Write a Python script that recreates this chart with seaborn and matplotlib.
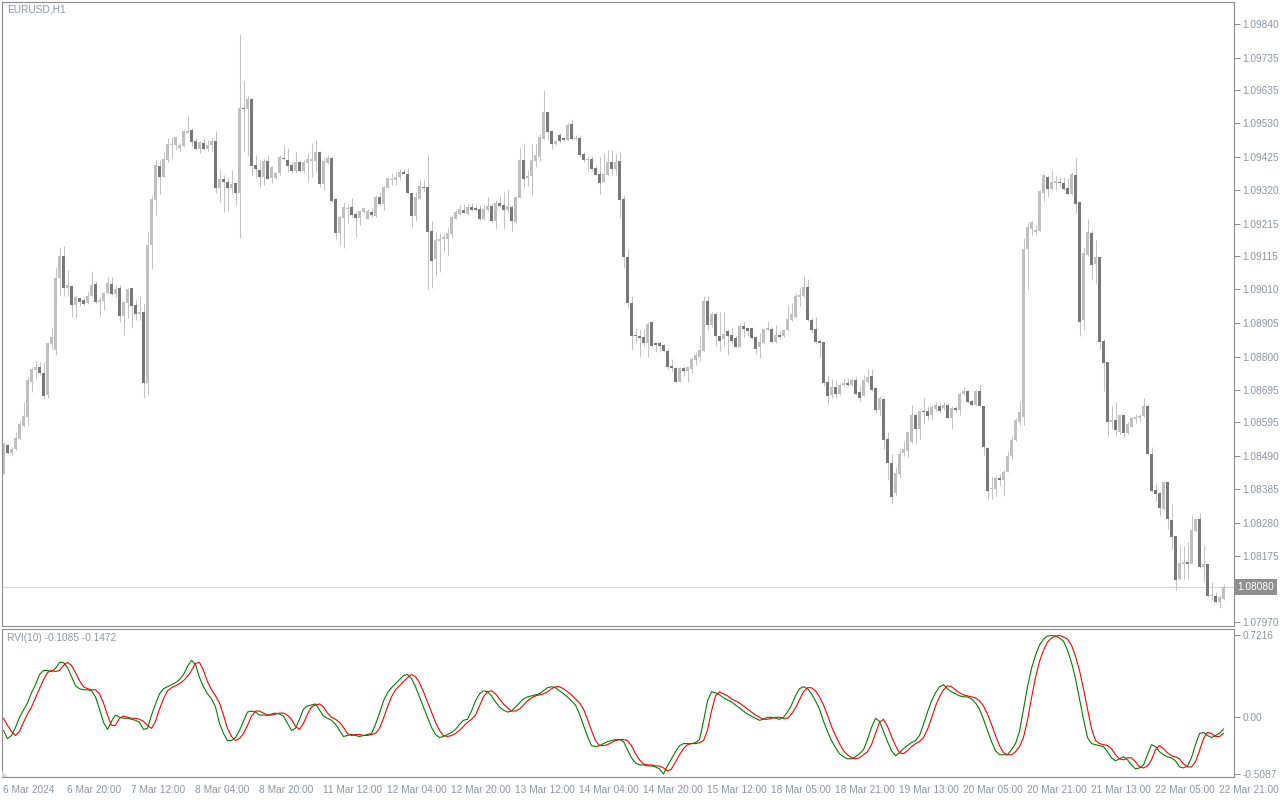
import numpy as np
import pandas as pd
import matplotlib
matplotlib.use("Agg")
import matplotlib.pyplot as plt
import matplotlib.transforms as mtransforms
from matplotlib.patches import Polygon
import seaborn as sns

# ---------------- data ----------------
symbol_label = "EURUSD,H1"
rvi_label = "RVI(10) -0.1085 -0.1472"

# prices in points (1 point = 0.00001)
open_pts = [108432,108523,108498,108510,108541,108582,108610,108722,108757,108766,
108750,108679,108838,108822,109047,109116,109016,109022,108960,108982,
108978,108969,108988,109028,108972,108975,109000,109028,108997,109013,
108928,108969,109013,108960,108932,108941,108716,109150,109291,109397,
109362,109415,109462,109462,109453,109459,109500,109509,109475,109450,
109469,109450,109462,109475,109328,109356,109347,109328,109344,109312,
109578,109575,109606,109400,109384,109362,109412,109359,109359,109375,
109422,109415,109400,109381,109409,109381,109406,109412,109412,109440,
109341,109406,109422,109294,109188,109234,109262,109269,109247,109234,
109253,109231,109253,109241,109300,109278,109328,109353,109353,109362,
109378,109372,109312,109241,109294,109331,109331,109194,109106,109163,
109169,109169,109184,109231,109247,109259,109247,109269,109266,109262,
109231,109259,109272,109225,109281,109275,109259,109269,109222,109297,
109415,109359,109366,109412,109425,109481,109565,109506,109465,109494,
109484,109478,109528,109481,109484,109434,109415,109419,109391,109372,
109347,109369,109409,109387,109412,109294,109113,108969,108866,108863,
108860,108844,108907,108844,108844,108835,108819,108772,108763,108722,
108763,108754,108760,108788,108800,108819,108975,108900,108932,108866,
108854,108879,108869,108857,108829,108897,108888,108891,108860,108829,
108841,108882,108885,108847,108869,108863,108882,108913,108925,108985,
108988,109019,108916,108885,108850,108847,108722,108679,108704,108682,
108710,108716,108710,108726,108688,108676,108722,108738,108701,108632,
108666,108541,108466,108373,108432,108498,108504,108532,108616,108573,
108629,108629,108616,108635,108644,108638,108648,108607,108638,108632,
108682,108691,108660,108648,108694,108644,108513,108385,108385,108420,
108413,108438,108488,108538,108594,108610,109138,109200,109191,109194,
109312,109362,109325,109344,109347,109344,109328,109309,109369,109284,
108916,109119,109188,109091,109110,108850,108782,108594,108601,108563,
108616,108560,108579,108604,108607,108613,108644,108495,108382,108373,
108323,108407,108289,108238,108104,108151,108157,108151,108254,108292,
108142,108151,108051,108051,108033,108042]

high_pts = [108532,108526,108516,108563,108598,108657,108735,108769,108785,108782,
108782,108847,108888,109081,109144,109147,109072,109025,108994,108982,
108982,109006,109069,109035,108985,109003,109050,109050,109025,109025,
108972,109016,109016,108978,108994,108963,109191,109303,109415,109415,
109440,109484,109487,109487,109469,109509,109553,109515,109484,109475,
109484,109478,109487,109506,109384,109369,109362,109384,109344,109809,
109662,109615,109609,109431,109415,109419,109431,109397,109378,109431,
109462,109453,109409,109440,109415,109415,109437,109469,109478,109444,
109425,109431,109428,109297,109244,109284,109275,109297,109253,109259,
109269,109262,109266,109306,109316,109334,109359,109375,109378,109387,
109387,109390,109312,109316,109353,109353,109431,109225,109191,109188,
109188,109203,109244,109259,109275,109278,109278,109281,109275,109275,
109275,109300,109281,109291,109303,109316,109322,109275,109303,109453,
109469,109384,109465,109465,109497,109634,109565,109509,109478,109500,
109487,109534,109543,109494,109494,109440,109425,109428,109400,109425,
109437,109447,109447,109434,109444,109306,109138,108991,108891,108885,
108885,108907,108910,108847,108850,108838,108822,108791,108766,108766,
108772,108766,108797,108813,108863,108991,108991,108938,108941,108938,
108938,108885,108894,108863,108903,108907,108891,108894,108863,108875,
108891,108910,108894,108900,108879,108885,108960,108969,109000,109016,
109053,109044,108922,108925,108854,108847,108744,108729,108726,108719,
108729,108732,108732,108738,108707,108741,108760,108760,108704,108676,
108672,108563,108495,108454,108510,108535,108563,108648,108622,108632,
108672,108644,108648,108657,108654,108657,108654,108644,108644,108688,
108704,108697,108666,108697,108713,108644,108516,108423,108426,108432,
108445,108504,108554,108607,108660,109172,109222,109225,109213,109322,
109372,109366,109384,109369,109362,109362,109359,109378,109422,109284,
109144,109231,109197,109166,109113,108854,108782,108644,108657,108619,
108616,108594,108610,108619,108622,108672,108651,108516,108404,108376,
108410,108407,108338,108238,108207,108207,108220,108304,108295,108310,
108207,108151,108095,108064,108054,108089]

low_pts = [108432,108495,108488,108507,108538,108579,108582,108688,108729,108744,
108669,108672,108825,108804,108988,108988,108988,108925,108922,108957,
108957,108966,108988,108969,108928,108947,108997,108994,108985,108907,
108869,108922,108891,108916,108916,108672,108682,109075,109244,109309,
109362,109409,109422,109447,109444,109456,109500,109456,109447,109437,
109447,109444,109440,109312,109284,109253,109256,109312,109275,109172,
109440,109428,109369,109362,109331,109337,109356,109344,109356,109369,
109419,109378,109375,109375,109378,109375,109347,109362,109378,109331,
109322,109403,109284,109169,109150,109141,109219,109238,109175,109213,
109250,109231,109238,109238,109275,109259,109328,109337,109337,109353,
109372,109309,109206,109225,109294,109316,109010,109016,109053,109066,
109128,109119,109175,109231,109244,109250,109244,109256,109256,109228,
109228,109256,109219,109200,109269,109200,109253,109194,109219,109297,
109328,109334,109306,109394,109412,109481,109478,109450,109462,109469,
109475,109478,109478,109478,109425,109409,109381,109381,109369,109309,
109347,109366,109369,109369,109234,109078,108953,108822,108841,108800,
108832,108800,108829,108813,108819,108813,108760,108754,108719,108722,
108738,108722,108750,108775,108785,108816,108882,108894,108832,108819,
108832,108804,108838,108829,108829,108860,108863,108854,108807,108797,
108838,108879,108844,108844,108854,108860,108879,108910,108922,108957,
108985,108910,108875,108838,108800,108707,108651,108669,108669,108679,
108707,108707,108707,108679,108660,108676,108719,108694,108619,108613,
108510,108413,108338,108366,108423,108488,108485,108529,108526,108541,
108588,108601,108601,108629,108626,108632,108607,108573,108626,108616,
108679,108654,108644,108644,108644,108491,108354,108354,108363,108395,
108363,108438,108476,108535,108585,108585,109010,109181,109181,109194,
109287,109300,109322,109322,109331,109322,109306,109306,109250,108863,
108882,109116,109041,109031,108825,108694,108551,108573,108551,108557,
108548,108557,108579,108591,108598,108610,108491,108376,108348,108301,
108320,108260,108198,108070,108101,108104,108104,108151,108251,108139,
108095,108048,108039,108029,108014,108039]

close_pts = [108526,108498,108510,108545,108588,108613,108726,108760,108766,108750,
108676,108841,108860,109047,109116,109016,109025,108960,108985,108972,
108963,108991,109025,108972,108978,109000,109031,108997,109010,108928,
108972,109010,108957,108932,108938,108716,109150,109294,109400,109362,
109419,109465,109465,109487,109462,109506,109506,109472,109450,109472,
109450,109462,109475,109328,109356,109347,109328,109341,109312,109578,
109575,109606,109397,109387,109362,109412,109356,109394,109375,109425,
109419,109397,109381,109409,109381,109409,109419,109419,109440,109341,
109412,109422,109287,109188,109238,109269,109266,109244,109234,109256,
109266,109256,109244,109300,109278,109331,109359,109356,109362,109378,
109372,109312,109241,109300,109334,109328,109191,109100,109166,109169,
109172,109188,109238,109253,109262,109250,109269,109259,109259,109231,
109262,109272,109225,109281,109272,109259,109272,109225,109300,109415,
109356,109366,109415,109431,109487,109565,109503,109465,109475,109475,
109478,109525,109481,109484,109431,109415,109419,109387,109369,109344,
109372,109409,109387,109409,109291,109113,108969,108866,108863,108857,
108844,108903,108832,108835,108832,108819,108769,108763,108722,108763,
108754,108766,108791,108804,108822,108975,108900,108932,108863,108850,
108872,108866,108850,108829,108897,108885,108879,108857,108825,108847,
108885,108888,108847,108869,108860,108882,108919,108932,108988,108994,
109019,108913,108882,108847,108844,108716,108676,108704,108682,108710,
108716,108710,108726,108682,108672,108726,108735,108697,108632,108669,
108538,108466,108360,108435,108495,108510,108563,108616,108573,108629,
108626,108613,108641,108648,108629,108648,108607,108638,108632,108682,
108691,108657,108648,108694,108644,108516,108379,108388,108420,108413,
108438,108488,108538,108601,108626,109138,109206,109222,109197,109319,
109369,109325,109347,109350,109344,109325,109309,109372,109278,108907,
109125,109191,109088,109110,108847,108779,108594,108601,108569,108616,
108560,108588,108607,108610,108613,108644,108495,108379,108370,108326,
108407,108292,108235,108101,108154,108157,108151,108257,108292,108142,
108151,108051,108051,108033,108048,108080]

rvi_main = [-0.122,-0.194,-0.167,-0.095,-0.005,0.059,0.122,0.212,0.284,0.374,
0.410,0.410,0.401,0.428,0.482,0.482,0.437,0.356,0.275,0.248,
0.239,0.239,0.230,0.176,0.068,-0.050,-0.113,-0.041,0.014,-0.005,
-0.014,-0.014,-0.023,-0.032,-0.050,-0.113,-0.104,0.014,0.113,0.203,
0.248,0.266,0.284,0.302,0.329,0.374,0.446,0.500,0.464,0.347,
0.266,0.203,0.158,0.086,-0.059,-0.149,-0.212,-0.212,-0.185,-0.122,
-0.041,0.041,0.050,0.041,0.014,0.014,0.014,0.023,0.032,0.023,
0.005,-0.059,-0.122,-0.104,-0.023,0.068,0.095,0.104,0.113,0.059,
0.005,-0.014,-0.032,-0.068,-0.122,-0.176,-0.167,-0.158,-0.167,-0.176,
-0.167,-0.158,-0.149,-0.068,0.032,0.140,0.212,0.257,0.293,0.329,
0.365,0.374,0.338,0.266,0.176,0.086,-0.005,-0.095,-0.158,-0.185,
-0.176,-0.158,-0.140,-0.113,-0.068,-0.032,-0.023,0.050,0.140,0.203,
0.230,0.221,0.185,0.131,0.086,0.059,0.041,0.050,0.086,0.122,
0.158,0.176,0.185,0.194,0.203,0.230,0.257,0.266,0.257,0.230,
0.203,0.176,0.140,0.104,0.023,-0.077,-0.176,-0.257,-0.266,-0.257,
-0.239,-0.221,-0.212,-0.203,-0.203,-0.221,-0.293,-0.365,-0.410,-0.428,
-0.428,-0.437,-0.437,-0.446,-0.464,-0.5087,-0.437,-0.374,-0.311,-0.257,
-0.239,-0.239,-0.239,-0.230,-0.203,-0.041,0.140,0.221,0.212,0.194,
0.167,0.149,0.131,0.104,0.077,0.050,0.023,0.005,-0.014,-0.032,
-0.023,-0.005,-0.005,-0.014,-0.023,-0.005,0.041,0.104,0.185,0.248,
0.266,0.248,0.203,0.140,0.068,-0.041,-0.131,-0.212,-0.275,-0.329,
-0.356,-0.374,-0.374,-0.356,-0.329,-0.293,-0.203,-0.095,-0.014,-0.041,
-0.131,-0.221,-0.302,-0.347,-0.320,-0.284,-0.257,-0.230,-0.212,-0.167,
-0.068,0.041,0.140,0.212,0.266,0.284,0.248,0.221,0.203,0.185,
0.176,0.176,0.158,0.122,0.068,-0.023,-0.122,-0.221,-0.302,-0.338,
-0.338,-0.338,-0.293,-0.239,-0.131,0.068,0.266,0.428,0.545,0.635,
0.689,0.716,0.720,0.716,0.698,0.671,0.590,0.482,0.338,0.158,
-0.023,-0.185,-0.239,-0.248,-0.257,-0.266,-0.311,-0.365,-0.392,-0.374,
-0.356,-0.383,-0.428,-0.464,-0.455,-0.428,-0.338,-0.248,-0.266,-0.311,
-0.338,-0.356,-0.365,-0.392,-0.446,-0.455,-0.437,-0.365,-0.248,-0.149,
-0.140,-0.167,-0.185,-0.167,-0.149,-0.1085]

rvi_signal = [-0.014,-0.077,-0.131,-0.167,-0.131,-0.050,0.023,0.086,0.167,0.248,
0.329,0.392,0.410,0.401,0.410,0.455,0.482,0.455,0.392,0.320,
0.266,0.248,0.239,0.239,0.203,0.122,0.014,-0.077,-0.077,-0.014,
0.005,-0.005,-0.014,-0.014,-0.023,-0.041,-0.077,-0.104,-0.041,0.068,
0.158,0.230,0.257,0.275,0.293,0.320,0.356,0.410,0.473,0.482,
0.410,0.311,0.239,0.185,0.122,0.014,-0.104,-0.176,-0.212,-0.194,
-0.149,-0.077,0.005,0.050,0.050,0.032,0.014,0.014,0.023,0.032,
0.032,0.014,-0.023,-0.086,-0.113,-0.059,0.023,0.086,0.104,0.113,
0.086,0.032,-0.005,-0.023,-0.050,-0.095,-0.149,-0.167,-0.158,-0.158,
-0.167,-0.167,-0.158,-0.149,-0.104,-0.014,0.086,0.176,0.239,0.275,
0.311,0.347,0.374,0.356,0.302,0.221,0.131,0.041,-0.050,-0.122,
-0.167,-0.176,-0.167,-0.149,-0.122,-0.086,-0.050,-0.023,0.014,0.095,
0.176,0.221,0.230,0.203,0.158,0.113,0.077,0.050,0.050,0.068,
0.104,0.140,0.167,0.185,0.194,0.203,0.221,0.248,0.266,0.266,
0.248,0.221,0.194,0.158,0.122,0.068,-0.023,-0.122,-0.212,-0.257,
-0.257,-0.248,-0.230,-0.212,-0.203,-0.203,-0.212,-0.257,-0.329,-0.383,
-0.419,-0.428,-0.428,-0.437,-0.437,-0.455,-0.482,-0.464,-0.401,-0.338,
-0.284,-0.248,-0.239,-0.239,-0.230,-0.212,-0.122,0.050,0.185,0.221,
0.203,0.185,0.158,0.140,0.122,0.095,0.068,0.041,0.014,-0.005,
-0.023,-0.023,-0.014,-0.005,-0.005,-0.014,-0.014,0.023,0.077,0.149,
0.221,0.257,0.257,0.230,0.176,0.104,0.014,-0.086,-0.167,-0.239,
-0.302,-0.338,-0.365,-0.374,-0.365,-0.338,-0.311,-0.248,-0.149,-0.050,
-0.023,-0.086,-0.176,-0.257,-0.320,-0.329,-0.302,-0.266,-0.239,-0.221,
-0.185,-0.113,-0.014,0.095,0.176,0.239,0.275,0.266,0.239,0.212,
0.194,0.185,0.176,0.167,0.140,0.095,0.023,-0.068,-0.167,-0.257,
-0.320,-0.338,-0.338,-0.311,-0.266,-0.185,-0.032,0.167,0.347,0.491,
0.590,0.662,0.698,0.716,0.7216,0.707,0.689,0.635,0.536,0.410,
0.248,0.068,-0.104,-0.212,-0.239,-0.248,-0.257,-0.284,-0.338,-0.374,
-0.383,-0.365,-0.365,-0.401,-0.446,-0.455,-0.437,-0.383,-0.293,-0.257,
-0.284,-0.320,-0.347,-0.356,-0.374,-0.419,-0.446,-0.446,-0.401,-0.302,
-0.194,-0.140,-0.149,-0.176,-0.176,-0.1472]

time_labels = ["6 Mar 2024", "6 Mar 20:00", "7 Mar 12:00", "8 Mar 04:00", "8 Mar 20:00",
               "11 Mar 12:00", "12 Mar 04:00", "12 Mar 20:00", "13 Mar 12:00", "14 Mar 04:00",
               "14 Mar 20:00", "15 Mar 12:00", "18 Mar 05:00", "18 Mar 21:00", "19 Mar 13:00",
               "20 Mar 05:00", "20 Mar 21:00", "21 Mar 13:00", "22 Mar 05:00", "22 Mar 21:00"]
bars_per_label = 16

price_ticks = [1.09840, 1.09735, 1.09635, 1.09530, 1.09425, 1.09320, 1.09215, 1.09115,
               1.09010, 1.08905, 1.08800, 1.08695, 1.08595, 1.08490, 1.08385, 1.08280,
               1.08175, 1.07970]
price_range = (1.079575, 1.09909)
last_price = 1.08080

rvi_ticks = [0.7216, 0.0, -0.5087]
rvi_tick_labels = ["0.7216", "0.00", "-0.5087"]
rvi_range = (-0.5355, 0.7785)

# ---------------- style ----------------
sns.set_style("white")
plt.rcParams['font.family'] = ['Liberation Sans', 'DejaVu Sans']

BULL = "#c0c0c0"
BEAR = "#787878"
WICK = "#c4c4c4"
FRAME = "#8c8c8c"
TEXT = "#8e96a4"
FS = 7.3

df = pd.DataFrame({
    "open": np.array(open_pts) / 1e5,
    "high": np.array(high_pts) / 1e5,
    "low": np.array(low_pts) / 1e5,
    "close": np.array(close_pts) / 1e5,
})
df["high"] = df[["high", "open", "close"]].max(axis=1)
df["low"] = df[["low", "open", "close"]].min(axis=1)
n = len(df)
idx = np.arange(n)

W, H = 1280, 800
fig = plt.figure(figsize=(W / 100, H / 100), dpi=100)
fig.patch.set_facecolor("white")
left_px, right_px = 2, 1234
ax = fig.add_axes([left_px / W, 1 - 626 / H, (right_px - left_px) / W, (626 - 2) / H])
ax2 = fig.add_axes([left_px / W, 1 - 777 / H, (right_px - left_px) / W, (777 - 629) / H])

xlim = (-0.375, -0.375 + (right_px - left_px) / 4.0)

# ---- candles ----
ax.axhline(last_price, color="#d8d8d8", lw=0.8, zorder=0)
ax.vlines(idx, df["low"], df["high"], color=WICK, lw=0.75, zorder=1)
bull = (df["close"] >= df["open"]).values
bottom = np.minimum(df["open"], df["close"]).values
height = np.maximum(np.abs(df["close"] - df["open"]).values, 0.000035)
ax.bar(idx[bull], height[bull], bottom=bottom[bull], width=0.75, color=BULL,
       linewidth=0, zorder=2)
ax.bar(idx[~bull], height[~bull], bottom=bottom[~bull], width=0.75, color=BEAR,
       linewidth=0, zorder=2)

ax.set_xlim(*xlim)
ax.set_ylim(*price_range)
ax.set_xticks([])
ax.yaxis.tick_right()
ax.set_yticks(price_ticks)
ax.set_yticklabels([f"{p:.5f}" for p in price_ticks])
ax.tick_params(axis="y", direction="out", length=4, width=0.7, color=FRAME,
               labelcolor=TEXT, labelsize=FS, pad=2)
for s in ax.spines.values():
    s.set_color(FRAME)
    s.set_linewidth(0.8)

ax.text(5 / (right_px - left_px), 1 - 8 / 624, symbol_label, transform=ax.transAxes,
        ha="left", va="center", fontsize=FS, color=TEXT)

trans = mtransforms.blended_transform_factory(ax.transAxes, ax.transData)
ax.text(1.0028, last_price, f"{last_price:.5f}", transform=trans, ha="left", va="center",
        fontsize=FS, color="white", zorder=5,
        bbox=dict(boxstyle="square,pad=0.3", fc="#8f8f8f", ec="none"))

# ---- RVI ----
sns.lineplot(x=idx, y=rvi_main, ax=ax2, color="#008000", lw=0.8)
sns.lineplot(x=idx, y=rvi_signal, ax=ax2, color="#ff0000", lw=0.8)
ax2.set_xlim(*xlim)
ax2.set_ylim(*rvi_range)
ax2.yaxis.tick_right()
ax2.set_yticks(rvi_ticks)
ax2.set_yticklabels(rvi_tick_labels)
ax2.tick_params(axis="y", direction="out", length=4, width=0.7, color=FRAME,
                labelcolor=TEXT, labelsize=FS, pad=2)
tick_pos = idx[::bars_per_label][:len(time_labels)]
ax2.set_xticks(tick_pos - 0.125)
ax2.set_xticklabels(time_labels)
ax2.tick_params(axis="x", direction="out", length=4, width=0.7, color=FRAME,
                labelcolor=TEXT, labelsize=FS, pad=2)
for lab in ax2.get_xticklabels():
    lab.set_ha("left")
ax2.set_xlabel("")
ax2.set_ylabel("")
for s in ax2.spines.values():
    s.set_color(FRAME)
    s.set_linewidth(0.8)

# small corner marker of the indicator window
ax2.add_patch(Polygon([[0, 0], [6 / (right_px - left_px), 0], [0, 6 / 148]],
                      closed=True, transform=ax2.transAxes, fc="#d9d9d9", ec="none",
                      zorder=3))

ax2.text(5 / (right_px - left_px), 1 - 9 / 148, rvi_label, transform=ax2.transAxes,
         ha="left", va="center", fontsize=FS, color=TEXT)

fig.savefig("out.png", dpi=100, facecolor="white")
